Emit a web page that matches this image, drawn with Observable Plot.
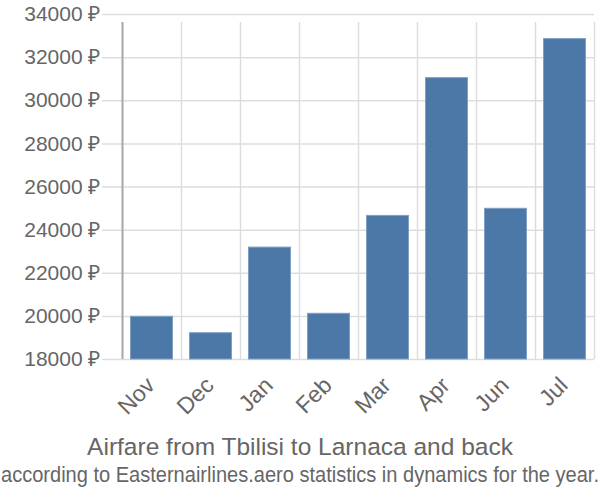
<!DOCTYPE html>
<html>
<head>
<meta charset="utf-8">
<script src="https://cdn.jsdelivr.net/npm/d3@7"></script>
<script src="https://cdn.jsdelivr.net/npm/@observablehq/plot@0.6"></script>
<style>
  body { margin: 0; background: #fff; font-family: "Liberation Sans", Arial, sans-serif; }
  #wrap { width: 600px; overflow: hidden; }
  .title { text-align: center; color: #666; font-size: 24.5px; line-height: 24px; white-space: nowrap; }
  .sub { width: 600px; margin-top: 4px; text-align: left; color: #666; font-size: 22px; line-height: 24px; white-space: nowrap; }
  .sub span { display: inline-block; transform-origin: 0 50%; }
</style>
</head>
<body>
<div id="wrap"></div>
<script>
const months = ["Nov", "Dec", "Jan", "Feb", "Mar", "Apr", "Jun", "Jul"];
const prices = [19980, 19220, 23190, 20120, 24660, 31050, 24990, 32860];
const yTicks = [18000, 20000, 22000, 24000, 26000, 28000, 30000, 32000, 34000];
const titleText = "Airfare from Tbilisi to Larnaca and back";
const subText = "according to Easternairlines.aero statistics in dynamics for the year.";

const data = months.map((m, i) => ({month: m, i, price: prices[i]}));
const edges = d3.range(months.length + 1);

const chart = Plot.plot({
  width: 600,
  height: 435,
  marginLeft: 122,
  marginRight: 6,
  marginTop: 14,
  marginBottom: 76,
  style: {fontFamily: "'Liberation Sans', Arial, sans-serif", fontSize: "20px", color: "#666", background: "#fff"},
  x: {domain: [0, months.length], axis: null},
  y: {domain: [18000, 34000], axis: null},
  marks: [
    Plot.ruleY(yTicks, {stroke: "#ddd", strokeWidth: 1.5, insetLeft: -20}),
    Plot.ruleX(edges, {y1: 18000, y2: 34000, stroke: "#ddd", strokeWidth: 1.5, insetBottom: -8}),
    Plot.text(yTicks, {x: 0, y: d => d, text: d => `${d} ₽`, textAnchor: "end", dx: -22, fill: "#666", fontSize: 21}),
    Plot.rectY(data, {x1: "i", x2: d => d.i + 1, y1: 18000, y2: "price", fill: "#4c78a8", stroke: "#7f9fc4", strokeWidth: 1, insetLeft: 8.5, insetRight: 8.5}),
    Plot.ruleX([0], {y1: 18000, y2: 34000, stroke: "#aaa", strokeWidth: 2, insetBottom: -8}),
    Plot.text(data, {x: d => d.i + 0.5, y: 18000, text: "month", rotate: -45, textAnchor: "end", lineAnchor: "middle", dx: -1, dy: 22, fill: "#666", fontSize: 23})
  ]
});

const wrap = document.getElementById("wrap");
wrap.appendChild(chart);
const t = document.createElement("div"); t.className = "title"; t.textContent = titleText; wrap.appendChild(t);
const s = document.createElement("div"); s.className = "sub";
const sp = document.createElement("span"); sp.textContent = subText; s.appendChild(sp);
wrap.appendChild(s);
const w = sp.getBoundingClientRect().width;
if (w > 0) {
  sp.style.marginLeft = "1px";
  sp.style.transform = `scaleX(${598 / w})`;
}
</script>
</body>
</html>
